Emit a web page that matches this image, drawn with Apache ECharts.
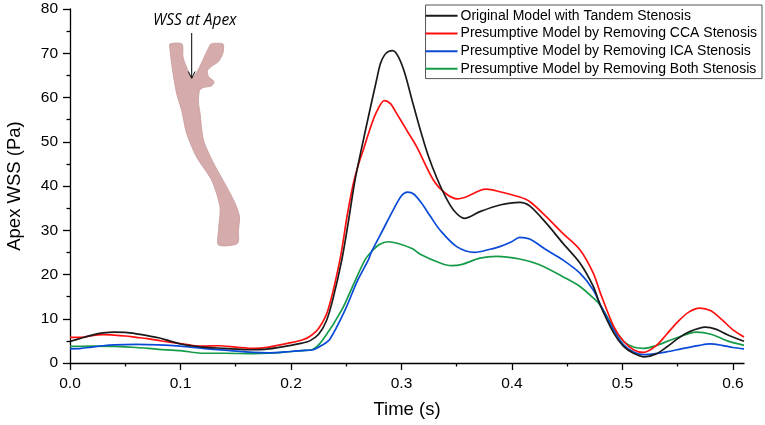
<!DOCTYPE html>
<html>
<head>
<meta charset="utf-8">
<title>Apex WSS</title>
<script src="https://cdn.jsdelivr.net/npm/echarts@6/dist/echarts.min.js"></script>
<style>
    html, body { margin: 0; padding: 0; background: #fff; }
    #chart { width: 765px; height: 425px; }
</style>
</head>
<body>
<div id="chart"></div>
<script>
const seriesNames = [
    'Original Model with Tandem Stenosis',
    'Presumptive Model by Removing CCA Stenosis',
    'Presumptive Model by Removing ICA Stenosis',
    'Presumptive Model by Removing Both Stenosis'
];
const seriesColors = ['#1a1a1a', '#ff1010', '#0a4ad8', '#169c48'];

const xMajorTicks = [0, 0.1, 0.2, 0.3, 0.4, 0.5, 0.6];
const xMinorTicks = [0.05, 0.15, 0.25, 0.35, 0.45, 0.55];

// [time (s), apex WSS (Pa)]
const originalModel = [
    [0.000, 4.9], [0.010, 5.6], [0.020, 6.3], [0.030, 6.8], [0.040, 7.0], [0.050, 6.9],
    [0.060, 6.6], [0.070, 6.2], [0.080, 5.7], [0.090, 5.0], [0.100, 4.3], [0.110, 3.9],
    [0.120, 3.6], [0.140, 3.3], [0.160, 3.0], [0.180, 3.2], [0.200, 4.0], [0.210, 4.5],
    [0.217, 5.0], [0.225, 6.5], [0.232, 9.5], [0.238, 14.5], [0.246, 23.3], [0.252, 32.0],
    [0.258, 41.4], [0.2675, 52.7], [0.2775, 64.0], [0.281, 67.7], [0.286, 70.0], [0.292, 70.6],
    [0.297, 69.3], [0.303, 65.5], [0.310, 59.0], [0.317, 52.7], [0.324, 47.0], [0.332, 41.8],
    [0.340, 37.5], [0.348, 34.3], [0.357, 32.7], [0.371, 34.2], [0.389, 35.7], [0.407, 36.3],
    [0.416, 35.5], [0.431, 31.6], [0.446, 27.1], [0.4615, 22.6], [0.4736, 17.3], [0.480, 13.0],
    [0.492, 6.8], [0.501, 3.75], [0.510, 2.2], [0.520, 1.4], [0.530, 2.0], [0.540, 3.6],
    [0.550, 5.5], [0.560, 7.0], [0.575, 8.1], [0.585, 7.6], [0.595, 6.4], [0.610, 4.9]
];
const removeCCA = [
    [0.000, 5.8], [0.010, 5.8], [0.020, 6.2], [0.030, 6.4], [0.040, 6.3], [0.050, 6.1],
    [0.060, 5.8], [0.070, 5.5], [0.080, 5.1], [0.090, 4.7], [0.100, 4.4], [0.110, 4.0],
    [0.120, 3.8], [0.135, 3.9], [0.150, 3.6], [0.166, 3.3], [0.180, 3.6], [0.200, 4.6],
    [0.210, 5.2], [0.217, 6.0], [0.225, 7.8], [0.2335, 12.0], [0.2443, 23.3], [0.251, 33.5],
    [0.2564, 40.5], [0.261, 44.8], [0.266, 48.6], [0.2706, 52.2], [0.277, 56.5], [0.2845, 59.3],
    [0.290, 58.6], [0.2956, 56.4], [0.305, 52.5], [0.3137, 48.9], [0.3287, 41.4], [0.340, 38.3],
    [0.3505, 37.1], [0.360, 37.7], [0.371, 39.0], [0.377, 39.3], [0.389, 38.7], [0.407, 37.5],
    [0.416, 36.5], [0.431, 33.1], [0.446, 29.3], [0.4615, 25.6], [0.4736, 20.3], [0.480, 15.8],
    [0.492, 8.3], [0.501, 4.9], [0.510, 3.0], [0.519, 2.4], [0.530, 3.8], [0.540, 6.5],
    [0.550, 9.3], [0.560, 11.5], [0.570, 12.4], [0.580, 11.8], [0.590, 9.8], [0.600, 7.5],
    [0.610, 5.9]
];
const removeICA = [
    [0.000, 3.2], [0.010, 3.3], [0.020, 3.6], [0.030, 3.9], [0.040, 4.1], [0.060, 4.2],
    [0.080, 4.1], [0.100, 3.8], [0.120, 3.3], [0.140, 2.9], [0.166, 2.4], [0.180, 2.3],
    [0.200, 2.6], [0.210, 2.8], [0.220, 3.0], [0.228, 4.0], [0.235, 5.3], [0.249, 12.0],
    [0.260, 18.5], [0.270, 23.3], [0.273, 25.2], [0.283, 30.0], [0.2926, 34.6], [0.300, 37.8],
    [0.3056, 38.6], [0.311, 38.2], [0.318, 36.2], [0.326, 33.2], [0.335, 30.0], [0.350, 26.3],
    [0.3665, 25.0], [0.380, 25.7], [0.389, 26.3], [0.3997, 27.4], [0.407, 28.4], [0.416, 28.0],
    [0.431, 25.6], [0.446, 23.3], [0.4615, 20.3], [0.4736, 16.5], [0.480, 13.2], [0.492, 7.5],
    [0.501, 4.1], [0.510, 2.5], [0.520, 1.9], [0.530, 2.1], [0.540, 2.5], [0.555, 3.3],
    [0.570, 4.0], [0.579, 4.3], [0.590, 4.0], [0.600, 3.5], [0.610, 3.2]
];
const removeBoth = [
    [0.000, 3.75], [0.020, 3.8], [0.040, 3.75], [0.060, 3.5], [0.080, 3.1], [0.100, 2.8],
    [0.120, 2.2], [0.140, 2.2], [0.166, 2.1], [0.180, 2.2], [0.200, 2.6], [0.210, 2.8],
    [0.220, 3.1], [0.229, 5.3], [0.246, 12.0], [0.257, 18.0], [0.267, 23.3], [0.273, 25.2],
    [0.280, 26.8], [0.288, 27.4], [0.297, 27.0], [0.310, 25.8], [0.317, 24.6], [0.335, 22.6],
    [0.345, 22.0], [0.355, 22.3], [0.371, 23.7], [0.386, 24.1], [0.407, 23.5], [0.425, 22.2],
    [0.446, 19.5], [0.4615, 17.3], [0.4736, 14.7], [0.480, 13.0], [0.492, 8.0], [0.501, 4.9],
    [0.510, 3.6], [0.519, 3.3], [0.530, 3.9], [0.545, 5.3], [0.567, 7.0], [0.580, 6.5],
    [0.595, 5.0], [0.610, 4.0]
];

const seriesData = [originalModel, removeCCA, removeICA, removeBoth];

// outline of the artery sketch in the upper left corner (decoration only)
const vesselOutline = [
    [170, 44], [182, 44], [183, 57], [187, 68], [191.7, 78.3], [198, 70], [210, 45],
    [212, 43.5], [223, 44], [223, 53], [218.5, 61.5], [211.5, 66.5], [207.5, 70.5],
    [208.5, 76.5], [214, 81.5], [211.5, 86], [203.5, 87.5], [199.5, 90.5], [198.5, 102],
    [200, 113], [203.5, 140], [213.5, 163], [226.5, 186.5], [235, 203], [239.5, 216.5],
    [238.5, 230], [237.5, 243.5], [218.5, 245], [218.5, 230], [220, 207], [211.5, 180],
    [196.5, 157], [186.5, 133], [181.5, 110], [176.5, 93], [172.5, 70], [170, 50]
];

const axisFont = 'Liberation Sans, Arial, sans-serif';

const chart = echarts.init(document.getElementById('chart'));

chart.setOption({
    animation: false,
    backgroundColor: '#fff',
    grid: { left: 70, right: 21, top: 9, bottom: 62, outerBoundsMode: 'none', containLabel: false },
    legend: {
        data: seriesNames,
        orient: 'vertical',
        right: 3,
        top: 5,
        icon: 'rect',
        itemWidth: 32,
        itemHeight: 2,
        itemGap: 2.2,
        padding: [3, 5, 2, 0],
        borderColor: '#555',
        borderWidth: 1,
        textStyle: { fontFamily: axisFont, fontSize: 14, lineHeight: 15.5, color: '#000', padding: [0, 0, 0, -2] }
    },
    xAxis: [{
        type: 'value',
        min: 0,
        max: 0.61,
        name: 'Time (s)',
        nameLocation: 'middle',
        nameGap: 37,
        nameTextStyle: { fontFamily: axisFont, fontSize: 18.5, color: '#000' },
        axisLine: { lineStyle: { color: '#000', width: 1.3 } },
        axisTick: { inside: false, length: 7, customValues: xMajorTicks, lineStyle: { color: '#000', width: 1.3 } },
        axisLabel: {
            customValues: xMajorTicks,
            margin: 13,
            fontFamily: axisFont,
            fontSize: 15.5,
            color: '#000',
            formatter: v => v.toFixed(1)
        },
        splitLine: { show: false }
    }, {
        type: 'value',
        min: 0,
        max: 0.61,
        position: 'bottom',
        axisLine: { show: false },
        axisTick: { inside: false, length: 3.5, customValues: xMinorTicks, lineStyle: { color: '#000', width: 1.3 } },
        axisLabel: { show: false },
        splitLine: { show: false }
    }],
    yAxis: {
        type: 'value',
        min: 0,
        max: 80,
        interval: 10,
        name: 'Apex WSS (Pa)',
        nameLocation: 'middle',
        nameGap: 46,
        nameTextStyle: { fontFamily: axisFont, fontSize: 18.5, color: '#000' },
        axisLine: { show: true, lineStyle: { color: '#000', width: 1.3 } },
        axisTick: { inside: false, length: 7, lineStyle: { color: '#000', width: 1.3 } },
        minorTick: { show: true, splitNumber: 2, length: 3.5, lineStyle: { color: '#000', width: 1.3 } },
        axisLabel: { margin: 12, fontFamily: axisFont, fontSize: 15.5, color: '#000' },
        splitLine: { show: false }
    },
    series: seriesNames.map((name, i) => ({
        name: name,
        type: 'line',
        xAxisIndex: 0,
        data: seriesData[i],
        smooth: 0.3,
        symbol: 'none',
        color: seriesColors[i],
        lineStyle: { color: seriesColors[i], width: 1.7 },
        z: 10 - i
    })),
    graphic: [{
        type: 'polygon',
        shape: { points: vesselOutline, smooth: 0.25 },
        style: { fill: '#d6abac', stroke: '#c79a9b', lineWidth: 0.8 }
    }, {
        type: 'line',
        shape: { x1: 191.7, y1: 33, x2: 191.7, y2: 78 },
        style: { stroke: '#000', lineWidth: 1 }
    }, {
        type: 'polyline',
        shape: { points: [[188.3, 71.5], [191.7, 78.3], [195.1, 71.5]] },
        style: { stroke: '#000', lineWidth: 1, fill: null }
    }, {
        type: 'text',
        left: 153,
        top: 13,
        style: {
            text: 'WSS at Apex',
            fontFamily: 'Open Sans, sans-serif',
            fontStyle: 'italic',
            fontSize: 15.5,
            fill: '#000'
        }
    }]
});
</script>
</body>
</html>
